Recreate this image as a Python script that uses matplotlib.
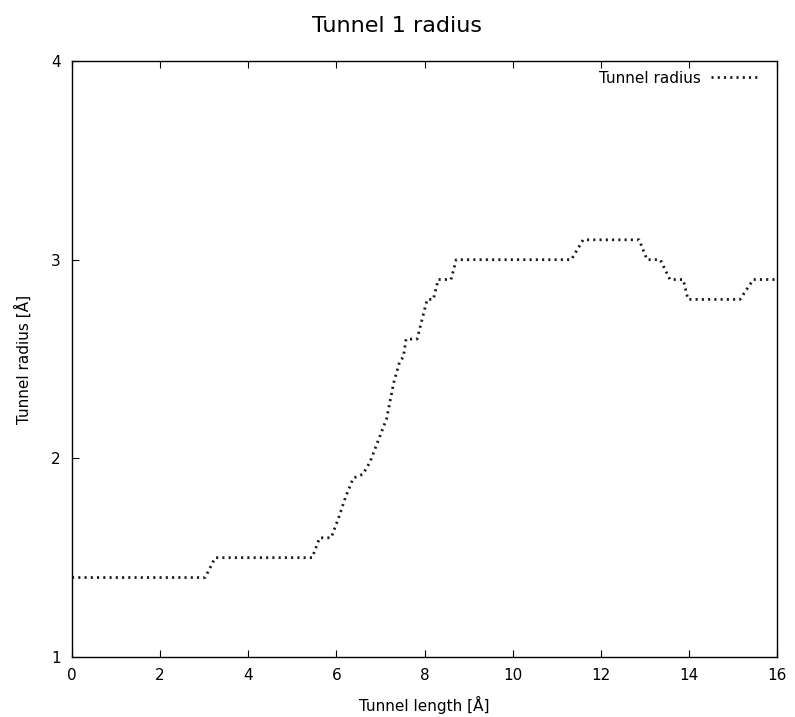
import matplotlib
matplotlib.use("Agg")
import matplotlib.pyplot as plt

# -------------------------
# Data
# -------------------------

tunnel_length = [
    0.0, 3.02, 3.25, 5.45, 5.62, 5.88, 6.05, 6.2, 6.38, 6.6,
    6.76, 6.95, 7.14, 7.3, 7.44, 7.52, 7.58, 7.83, 8.06, 8.2,
    8.31, 8.6, 8.72, 11.33, 11.6, 12.87, 13.05, 13.35, 13.57, 13.87,
    13.98, 15.16, 15.46, 16.0
]

tunnel_radius = [
    1.4, 1.4, 1.5, 1.5, 1.6, 1.6, 1.7, 1.8, 1.9, 1.92,
    1.98, 2.09, 2.2, 2.38, 2.49, 2.51, 2.6, 2.6, 2.8, 2.8,
    2.9, 2.9, 3.0, 3.0, 3.1, 3.1, 3.0, 3.0, 2.9, 2.9,
    2.8, 2.8, 2.9, 2.9
]

x_ticks = [0, 2, 4, 6, 8, 10, 12, 14, 16]
y_ticks = [1, 2, 3, 4]

# -------------------------
# Plot
# -------------------------

fig = plt.figure(figsize=(7.95, 7.17), dpi=100)
ax = fig.add_axes([0.0906, 0.0837, 0.8868, 0.8312])

ax.plot(
    tunnel_length,
    tunnel_radius,
    color="#1a1a1a",
    linewidth=2.0,
    linestyle=(0, (0.75, 1.5)),
    label="Tunnel radius",
)

ax.set_xlim(0, 16)
ax.set_ylim(1, 4)
ax.set_xticks(x_ticks)
ax.set_yticks(y_ticks)

ax.tick_params(
    axis="both",
    direction="in",
    length=5,
    width=0.8,
    labelsize=11,
    top=True,
    right=False,
)
ax.tick_params(axis="x", pad=8)
ax.tick_params(axis="y", pad=8)

for s in ax.spines.values():
    s.set_linewidth(1.0)

ax.set_xlabel("Tunnel length [Å]", fontsize=11, labelpad=9)
ax.set_ylabel("Tunnel radius [Å]", fontsize=11, labelpad=14)

fig.suptitle("Tunnel 1 radius", fontsize=16, y=0.977)

ax.legend(
    loc="upper right",
    bbox_to_anchor=(1.0, 1.012),
    frameon=False,
    markerfirst=False,
    fontsize=11,
    handlelength=3.2,
    handletextpad=0.7,
    borderaxespad=0.7,
)

plt.savefig("out.png", dpi=100)
